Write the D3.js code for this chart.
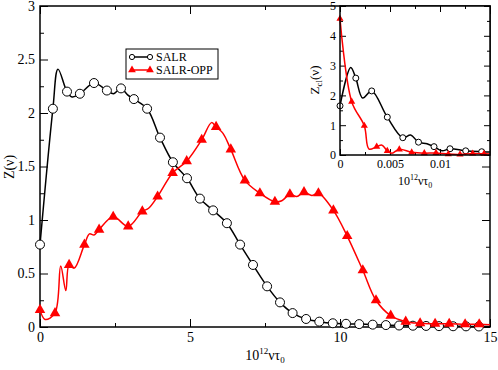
<!DOCTYPE html>
<html>
<head>
<meta charset="utf-8">
<script src="https://cdn.jsdelivr.net/npm/d3@7"></script>
<style>
  body { margin: 0; background: #fff; }
  text { font-family: "Liberation Serif", "Times New Roman", serif; fill: #000; }
</style>
</head>
<body>
<script>
// main panel: SALR (open circles) and SALR-OPP (red triangles)
var salrMarkX = [0, 0.43, 0.9, 1.33, 1.8, 2.23, 2.7, 3.13, 3.57, 4.0, 4.43, 4.9, 5.33, 5.77, 6.23, 6.67, 7.1, 7.57, 8.0, 8.42, 8.87, 9.31, 9.76, 10.2, 10.64, 11.09, 11.53, 11.97, 12.43, 12.87, 13.3, 13.77, 14.2, 14.63];
var salrMarkY = [0.77, 2.04, 2.2, 2.18, 2.28, 2.21, 2.23, 2.13, 2.04, 1.77, 1.54, 1.39, 1.2, 1.09, 0.97, 0.77, 0.58, 0.38, 0.23, 0.13, 0.075, 0.05, 0.035, 0.03, 0.027, 0.022, 0.018, 0.014, 0.012, 0.01, 0.008, 0.007, 0.006, 0.005];
var salrBendX = [0.6, 1.07, 2.45, 2.92, 15];
var salrBendY = [2.41, 2.15, 2.18, 2.17, 0.005];

var oppMarkX = [0, 0.5, 0.97, 1.48, 1.97, 2.44, 2.94, 3.41, 3.92, 4.42, 4.89, 5.39, 5.87, 6.36, 6.83, 7.33, 7.83, 8.33, 8.8, 9.28, 9.78, 10.24, 10.76, 11.2, 11.69, 12.19, 12.67, 13.17, 13.64, 14.17, 14.64];
var oppMarkY = [0.16, 0.13, 0.58, 0.77, 0.91, 1.03, 0.94, 1.08, 1.22, 1.44, 1.55, 1.75, 1.87, 1.66, 1.37, 1.25, 1.17, 1.24, 1.26, 1.25, 1.09, 0.85, 0.53, 0.25, 0.106, 0.05, 0.035, 0.03, 0.03, 0.025, 0.025];
var oppBendX = [0.17, 0.69, 0.86, 1.14, 1.65, 1.8, 3.62, 5.72, 6.1, 8.06, 8.56, 9.06, 15];
var oppBendY = [0.07, 0.57, 0.34, 0.55, 0.87, 0.86, 1.11, 1.91, 1.81, 1.18, 1.22, 1.23, 0.02];

// inset: Z_cl
var inSalrMarkX = [0, 0.00158, 0.00317, 0.00473, 0.00628, 0.00785, 0.0094, 0.011, 0.01257, 0.01417];
var inSalrMarkY = [1.65, 2.58, 2.15, 1.27, 0.58, 0.43, 0.28, 0.21, 0.14, 0.11];
var inSalrBendX = [0.00107, 0.00227, 0.00707, 0.0087, 0.0102, 0.015];
var inSalrBendY = [2.94, 1.91, 0.67, 0.38, 0.14, 0.1];

var inOppMarkX = [0, 0.00117, 0.00243, 0.00367, 0.00473, 0.00593, 0.00717, 0.00843, 0.0096, 0.01083, 0.012, 0.01327, 0.0144];
var inOppMarkY = [4.57, 1.79, 0.98, 0.28, 0.14, 0.19, 0.09, 0.06, 0.07, 0.03, 0.02, 0.05, 0.04];
var inOppBendX = [0.0029, 0.0042, 0.0052, 0.015];
var inOppBendY = [0.2, 0.33, 0.06, 0.03];

// ticks
var mainXTicks = [0, 5, 10, 15], mainXMinor = [2.5, 7.5, 12.5];
var mainYTicks = [0, 0.5, 1, 1.5, 2, 2.5, 3], mainYMinor = [0.25, 0.75, 1.25, 1.75, 2.25, 2.75];
var inXTicks = [0, 0.005, 0.01], inXMinor = [0.0025, 0.0075, 0.0125];
var inYTicks = [0, 1, 2, 3, 4, 5], inYMinor = [0.5, 1.5, 2.5, 3.5, 4.5];
var seriesNames = ["SALR", "SALR-OPP"];

var width = 498, height = 370;
var svg = d3.select("body").append("svg").attr("width", width).attr("height", height);

function pts(mx, my, bx, by) {
  var p = mx.map(function(v, i) { return [v, my[i]]; })
    .concat(bx.map(function(v, i) { return [v, by[i]]; }));
  return p.sort(function(a, b) { return a[0] - b[0]; });
}
function marks(mx, my) { return mx.map(function(v, i) { return [v, my[i]]; }); }

// draws frame, inward ticks (major + minor) on all four sides
function panel(g, x, y, o) {
  g.append("rect")
    .attr("x", x.range()[0]).attr("y", y.range()[1])
    .attr("width", x.range()[1] - x.range()[0])
    .attr("height", y.range()[0] - y.range()[1])
    .attr("fill", "#fff");
  var sides = [
    [d3.axisBottom(x), y.range()[0], 0, true],
    [d3.axisTop(x), y.range()[1], 0, false],
    [d3.axisLeft(y), 0, x.range()[0], true],
    [d3.axisRight(y), 0, x.range()[1], false]
  ];
  sides.forEach(function(s, k) {
    var horiz = k < 2;
    var major = s[0].tickValues(horiz ? o.xt : o.yt).tickSizeInner(-o.major).tickSizeOuter(0);
    var gm = g.append("g").attr("transform", "translate(" + s[2] + "," + s[1] + ")").call(major);
    gm.select(".domain").remove();
    gm.selectAll("line").attr("stroke", "#000").attr("stroke-width", 1);
    if (s[3]) {
      gm.selectAll("text").text(horiz ? o.xf : o.yf)
        .attr("font-size", o.font).style("font-family", "Liberation Serif");
      if (horiz) gm.selectAll("text").attr("y", o.xLabelY).attr("dy", 0);
      else gm.selectAll("text").attr("x", -o.yLabelX);
    } else gm.selectAll("text").remove();
    var minor = (horiz ? (k === 0 ? d3.axisBottom(x) : d3.axisTop(x)) : (k === 2 ? d3.axisLeft(y) : d3.axisRight(y)))
      .tickValues(horiz ? o.xm : o.ym).tickSizeInner(-o.minor).tickSizeOuter(0).tickFormat("");
    var gn = g.append("g").attr("transform", "translate(" + s[2] + "," + s[1] + ")").call(minor);
    gn.select(".domain").remove();
    gn.selectAll("line").attr("stroke", "#000").attr("stroke-width", 1);
  });
  g.append("rect").attr("class", "frame")
    .attr("x", x.range()[0]).attr("y", y.range()[1])
    .attr("width", x.range()[1] - x.range()[0])
    .attr("height", y.range()[0] - y.range()[1])
    .attr("fill", "none").attr("stroke", "#000").attr("stroke-width", 1.5);
}

function series(g, x, y, line, mk, color, kind, size) {
  var gen = d3.line().x(function(d) { return x(d[0]); }).y(function(d) { return y(d[1]); })
    .curve(d3.curveCatmullRom.alpha(0.5));
  g.append("path").datum(line).attr("d", gen)
    .attr("fill", "none").attr("stroke", color).attr("stroke-width", 1.5);
  if (kind === "circle") {
    g.selectAll(null).data(mk).enter().append("circle")
      .attr("cx", function(d) { return x(d[0]); }).attr("cy", function(d) { return y(d[1]); })
      .attr("r", size).attr("fill", "#fff").attr("stroke", "#000").attr("stroke-width", 1);
  } else {
    var sym = d3.symbol().type(d3.symbolTriangle).size(size);
    g.selectAll(null).data(mk).enter().append("path")
      .attr("d", sym)
      .attr("transform", function(d) { return "translate(" + x(d[0]) + "," + y(d[1]) + ")"; })
      .attr("fill", color);
  }
}

// ---- main panel
var x = d3.scaleLinear().domain([0, 15]).range([40, 490]);
var y = d3.scaleLinear().domain([0, 3]).range([327, 6]);
var main = svg.append("g");
panel(main, x, y, {
  xt: mainXTicks, xm: mainXMinor, yt: mainYTicks, ym: mainYMinor,
  major: 8, minor: 4, font: 14, xLabelY: 15, yLabelX: 5,
  xf: function(d) { return d; }, yf: function(d) { return d; }
});
series(main, x, y, pts(salrMarkX, salrMarkY, salrBendX, salrBendY), marks(salrMarkX, salrMarkY), "#000", "circle", 4.5);
series(main, x, y, pts(oppMarkX, oppMarkY, oppBendX, oppBendY), marks(oppMarkX, oppMarkY), "#ff0000", "tri", 48);

main.append("text").attr("x", 265).attr("y", 360).attr("text-anchor", "middle").attr("font-size", 14)
  .html('10<tspan dy="-6" font-size="9">12</tspan><tspan dy="6">ντ</tspan><tspan dy="3" font-size="9">0</tspan>');
main.append("text").attr("transform", "translate(14,167) rotate(-90)").attr("text-anchor", "middle")
  .attr("font-size", 14).text("Z(ν)");

// legend
var leg = main.append("g");
leg.append("rect").attr("x", 126).attr("y", 49).attr("width", 92).attr("height", 30)
  .attr("fill", "#fff").attr("stroke", "#000").attr("stroke-width", 1);
[57, 70].forEach(function(ly, i) {
  var col = i === 0 ? "#000" : "#ff0000";
  leg.append("line").attr("x1", 132).attr("x2", 150).attr("y1", ly).attr("y2", ly)
    .attr("stroke", col).attr("stroke-width", 1.5);
  [132, 150].forEach(function(lx) {
    if (i === 0) leg.append("circle").attr("cx", lx).attr("cy", ly).attr("r", 2.6)
      .attr("fill", "#fff").attr("stroke", "#000");
    else leg.append("path").attr("d", d3.symbol().type(d3.symbolTriangle).size(26))
      .attr("transform", "translate(" + lx + "," + ly + ")").attr("fill", col);
  });
  leg.append("text").attr("x", 156).attr("y", ly + 4).attr("font-size", 12).text(seriesNames[i]);
});

// ---- inset
var ix = d3.scaleLinear().domain([0, 0.015]).range([340, 490]);
var iy = d3.scaleLinear().domain([0, 5]).range([155, 6]);
var ins = svg.append("g");
panel(ins, ix, iy, {
  xt: inXTicks, xm: inXMinor, yt: inYTicks, ym: inYMinor,
  major: 6, minor: 3, font: 12, xLabelY: 13, yLabelX: 4,
  xf: function(d) { return d; }, yf: function(d) { return d; }
});
series(ins, ix, iy, pts(inSalrMarkX, inSalrMarkY, inSalrBendX, inSalrBendY), marks(inSalrMarkX, inSalrMarkY), "#000", "circle", 3);
series(ins, ix, iy, pts(inOppMarkX, inOppMarkY, inOppBendX, inOppBendY), marks(inOppMarkX, inOppMarkY), "#ff0000", "tri", 22);
ins.select("rect.frame").raise();

ins.append("text").attr("x", 415).attr("y", 185).attr("text-anchor", "middle").attr("font-size", 12)
  .html('10<tspan dy="-5" font-size="8">12</tspan><tspan dy="5">ντ</tspan><tspan dy="3" font-size="8">0</tspan>');
ins.append("text").attr("transform", "translate(319,80) rotate(-90)").attr("text-anchor", "middle")
  .attr("font-size", 13).html('Z<tspan dy="3" font-size="9">cl</tspan><tspan dy="-3">(ν)</tspan>');
</script>
</body>
</html>
